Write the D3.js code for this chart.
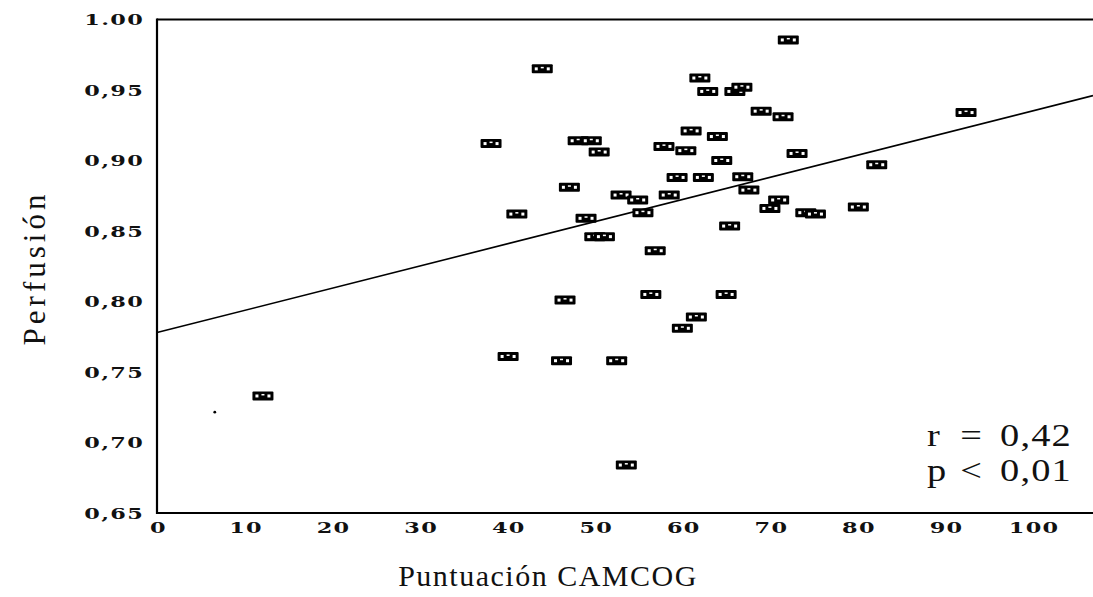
<!DOCTYPE html>
<html>
<head>
<meta charset="utf-8">
<script src="https://cdn.jsdelivr.net/npm/d3@7"></script>
<style>
  html, body { margin: 0; padding: 0; background: #fff; }
  svg { display: block; }
</style>
</head>
<body>
<svg id="chart" width="1093" height="597"></svg>
<script>
// CAMCOG score vs. perfusion index, one marker per patient
const camcog = [12.1, 38.15, 41.1, 40.1, 44.0, 47.1, 46.6, 46.2, 48.1, 49.6,
                50.5, 49.0, 50.0, 51.1, 53.0, 54.9, 55.5, 52.5, 53.6, 56.4,
                56.9, 57.9, 58.5, 59.4, 60.0, 60.4, 61.0, 61.6, 62.0, 62.4,
                62.9, 64.0, 64.5, 65.0, 65.4, 66.0, 66.8, 66.9, 67.6, 69.0,
                70.0, 71.0, 71.5, 72.1, 73.1, 74.1, 75.2, 80.1, 82.2, 92.4];
const perfusion = [0.733, 0.912, 0.862, 0.761, 0.965, 0.881, 0.801, 0.758, 0.914, 0.914,
                   0.906, 0.859, 0.846, 0.846, 0.8755, 0.872, 0.863, 0.758, 0.684, 0.805,
                   0.836, 0.910, 0.8755, 0.888, 0.781, 0.907, 0.921, 0.789, 0.9585, 0.888,
                   0.949, 0.917, 0.900, 0.805, 0.8535, 0.949, 0.952, 0.8885, 0.879, 0.935,
                   0.866, 0.872, 0.931, 0.9855, 0.905, 0.863, 0.862, 0.867, 0.897, 0.934];

// stray dot printed inside the plot area
const strayDot = [[6.6, 0.7215]];

// fitted regression line, end points
const fitLine = [[0, 0.778], [106.9, 0.946]];

const xTicks = [0, 10, 20, 30, 40, 50, 60, 70, 80, 90, 100];
const yTicks = [0.65, 0.70, 0.75, 0.80, 0.85, 0.90, 0.95, 1.00];
const yTickLabels = ["0,65", "0,70", "0,75", "0,80", "0,85", "0,90", "0,95", "1.00"];

const statLines = [["r", "=", "0,42"], ["p", "<", "0,01"]];

const svg = d3.select("#chart");

const plotL = 157, plotR = 1093, plotT = 19.5, plotB = 513;
const x = d3.scaleLinear().domain([0, 106.9]).range([plotL, plotR]);
const y = d3.scaleLinear().domain([0.65, 1.00]).range([plotB, plotT]);

const tickFont = "'DejaVu Serif', serif";

// Y axis
const yAxis = d3.axisLeft(y)
  .tickValues(yTicks)
  .tickSize(0)
  .tickFormat((d, i) => yTickLabels[i]);
const gy = svg.append("g").attr("transform", `translate(${plotL},0)`).call(yAxis);
gy.select(".domain").remove();
gy.selectAll("text")
  .attr("x", 0).attr("dy", "0.36em")
  .attr("transform", "translate(-13,0) scale(1.6,1)")
  .style("font-family", tickFont)
  .style("font-weight", "bold")
  .style("font-size", "14px")
  .style("letter-spacing", "0.8px")
  .attr("fill", "#111");

// X axis
const xAxis = d3.axisBottom(x).tickValues(xTicks).tickSize(0).tickFormat(d => String(d));
const gx = svg.append("g").attr("transform", `translate(0,${plotB})`).call(xAxis);
gx.select(".domain").remove();
gx.selectAll("text")
  .attr("y", 0).attr("dy", 0)
  .attr("transform", "translate(1,19.5) scale(1.6,1)")
  .style("font-family", tickFont)
  .style("font-weight", "bold")
  .style("font-size", "14px")
  .style("letter-spacing", "0.8px")
  .attr("fill", "#111");

// Frame: left, top and bottom lines
const frame = svg.append("g").attr("stroke", "#000").attr("fill", "none");
frame.append("line").attr("x1", plotL).attr("x2", plotL).attr("y1", plotT - 1).attr("y2", plotB + 1).attr("stroke-width", 2.2);
frame.append("line").attr("x1", plotL).attr("x2", plotR).attr("y1", plotT).attr("y2", plotT).attr("stroke-width", 1.8);
frame.append("line").attr("x1", plotL).attr("x2", plotR).attr("y1", plotB).attr("y2", plotB).attr("stroke-width", 2.2);

// Regression line
svg.append("path")
  .datum(fitLine)
  .attr("d", d3.line().x(d => x(d[0])).y(d => y(d[1])))
  .attr("fill", "none")
  .attr("stroke", "#000")
  .attr("stroke-width", 1.6);

// Markers: small black boxes with two white windows
const pts = camcog.map((c, i) => [c, perfusion[i]]);
const mk = svg.append("g").selectAll("g.mk").data(pts).join("g")
  .attr("class", "mk")
  .attr("transform", d => `translate(${x(d[0])},${y(d[1])})`);
mk.append("rect").attr("x", -10.5).attr("y", -4.5).attr("width", 21).attr("height", 9)
  .attr("rx", 1).attr("fill", "#000");
mk.append("rect").attr("x", -7.5).attr("y", -1.5).attr("width", 3).attr("height", 3).attr("fill", "#fff");
mk.append("rect").attr("x", 4.5).attr("y", -1.5).attr("width", 3).attr("height", 3).attr("fill", "#fff");
mk.append("rect").attr("x", -1.5).attr("y", -2).attr("width", 3).attr("height", 1.5).attr("fill", "#fff");

// Stray dot
svg.append("g").selectAll("circle").data(strayDot).join("circle")
  .attr("cx", d => x(d[0])).attr("cy", d => y(d[1])).attr("r", 1.4).attr("fill", "#000");

// Axis titles
svg.append("text")
  .attr("x", 548).attr("y", 586)
  .attr("text-anchor", "middle")
  .style("font-family", "'Liberation Serif', serif")
  .style("font-size", "30px")
  .style("letter-spacing", "1.5px")
  .attr("fill", "#111")
  .text("Puntuación CAMCOG");

svg.append("text")
  .attr("transform", "translate(45,268) rotate(-90)")
  .attr("text-anchor", "middle")
  .style("font-family", "'Liberation Serif', serif")
  .style("font-size", "31px")
  .style("letter-spacing", "4px")
  .attr("fill", "#111")
  .text("Perfusión");

// Statistics in the lower right corner
const stat = svg.append("g")
  .style("font-family", "'Liberation Serif', serif")
  .style("font-size", "32px")
  .attr("fill", "#111");
statLines.forEach((row, i) => {
  const by = 446 + i * 35;
  stat.append("text").attr("transform", `translate(927,${by}) scale(1.2,1)`).text(row[0]);
  stat.append("text").attr("transform", `translate(971,${by}) scale(1.2,1)`).attr("text-anchor", "middle").text(row[1]);
  stat.append("text").attr("transform", `translate(1000,${by}) scale(1.2,1)`).style("letter-spacing", "1px").text(row[2]);
});
</script>
</body>
</html>
